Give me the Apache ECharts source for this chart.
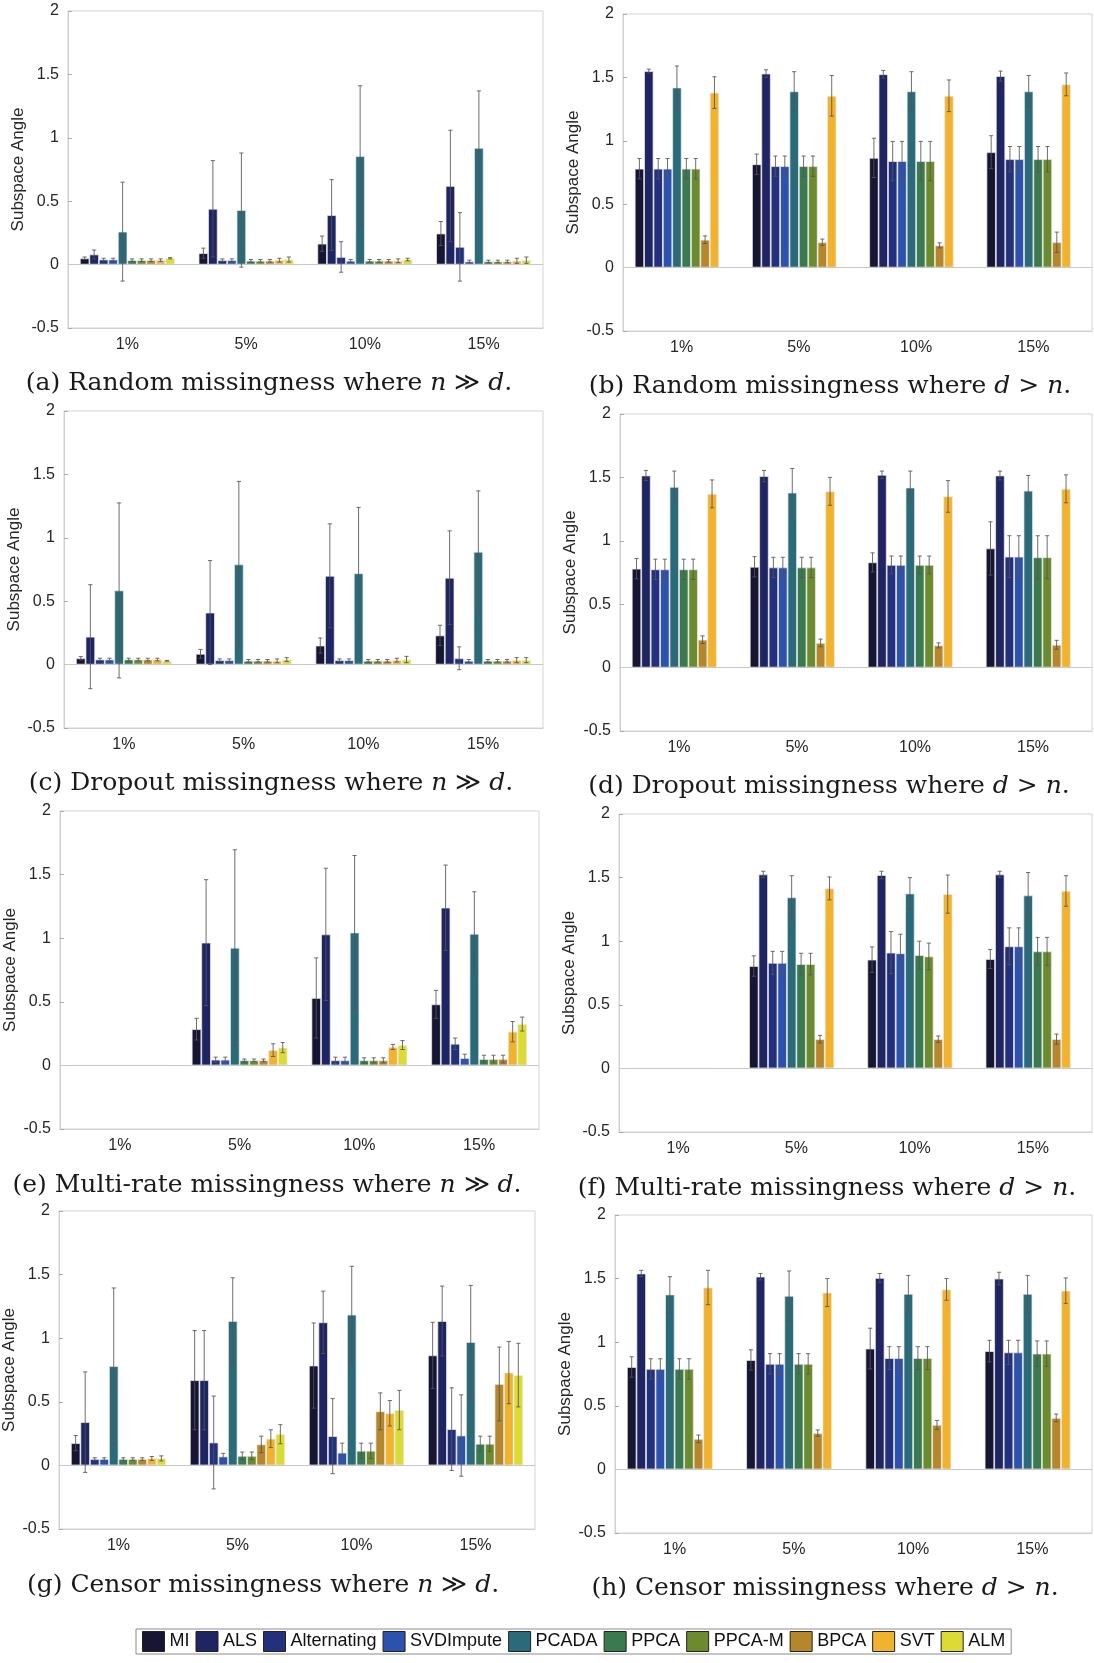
<!DOCTYPE html>
<html>
<head>
<meta charset="utf-8">
<script src="https://cdn.jsdelivr.net/npm/echarts@6/dist/echarts.min.js"></script>
<style>
  html, body { margin: 0; padding: 0; background: #ffffff; }
  #chart { width: 1094px; height: 1663px; }
</style>
</head>
<body>
<div id="chart"></div>
<script>
// Missingness rates on the x axis and the ten imputation methods
const categories = ['1%', '5%', '10%', '15%'];
const methods = ['MI', 'ALS', 'Alternating', 'SVDImpute', 'PCADA', 'PPCA', 'PPCA-M', 'BPCA', 'SVT', 'ALM'];
const methodColors = ['#161634', '#1f2462', '#23307e', '#2c52ad', '#2b6a79', '#3b7a4e', '#6c8b2e', '#b5872a', '#f1b22d', '#dcdb33'];
const yTicks = [-0.5, 0, 0.5, 1, 1.5, 2];

// Mean subspace angle (rows: methods, columns: missingness rates) and error-bar half widths.
// null = method not run for that setting.

// (a) Random missingness, n >> d
const random_nd_mean = [
  [0.05, 0.09, 0.165, 0.245],
  [0.08, 0.44, 0.39, 0.62],
  [0.04, 0.035, 0.06, 0.14],
  [0.04, 0.035, 0.03, 0.025],
  [0.26, 0.43, 0.855, 0.92],
  [0.035, 0.03, 0.03, 0.025],
  [0.035, 0.03, 0.03, 0.025],
  [0.035, 0.03, 0.03, 0.025],
  [0.035, 0.035, 0.03, 0.03],
  [0.05, 0.04, 0.04, 0.035]
];
const random_nd_err = [
  [0.01, 0.04, 0.06, 0.095],
  [0.035, 0.38, 0.28, 0.44],
  [0.01, 0.01, 0.12, 0.27],
  [0.01, 0.01, 0.01, 0.01],
  [0.39, 0.45, 0.555, 0.45],
  [0.01, 0.01, 0.01, 0.01],
  [0.01, 0.01, 0.01, 0.01],
  [0.01, 0.01, 0.01, 0.01],
  [0.01, 0.015, 0.015, 0.02],
  [0.005, 0.02, 0.01, 0.025]
];

// (b) Random missingness, d > n
const random_dn_mean = [
  [0.78, 0.815, 0.865, 0.91],
  [1.55, 1.53, 1.525, 1.51],
  [0.78, 0.80, 0.84, 0.855],
  [0.78, 0.80, 0.84, 0.855],
  [1.42, 1.39, 1.39, 1.39],
  [0.78, 0.80, 0.84, 0.855],
  [0.78, 0.80, 0.84, 0.855],
  [0.22, 0.20, 0.175, 0.20],
  [1.38, 1.355, 1.355, 1.445],
  [null, null, null, null]
];
const random_dn_err = [
  [0.08, 0.08, 0.155, 0.13],
  [0.015, 0.03, 0.03, 0.04],
  [0.08, 0.08, 0.155, 0.10],
  [0.08, 0.08, 0.155, 0.10],
  [0.17, 0.155, 0.155, 0.125],
  [0.08, 0.08, 0.155, 0.10],
  [0.08, 0.08, 0.155, 0.10],
  [0.03, 0.025, 0.02, 0.08],
  [0.125, 0.16, 0.125, 0.09],
  [null, null, null, null]
];

// (c) Dropout missingness, n >> d
const dropout_nd_mean = [
  [0.05, 0.085, 0.15, 0.23],
  [0.22, 0.41, 0.70, 0.685],
  [0.04, 0.035, 0.035, 0.05],
  [0.04, 0.035, 0.035, 0.03],
  [0.585, 0.79, 0.72, 0.89],
  [0.04, 0.03, 0.03, 0.03],
  [0.04, 0.03, 0.03, 0.03],
  [0.04, 0.03, 0.03, 0.03],
  [0.04, 0.03, 0.035, 0.035],
  [0.03, 0.04, 0.04, 0.035]
];
const dropout_nd_err = [
  [0.013, 0.035, 0.06, 0.08],
  [0.41, 0.41, 0.41, 0.37],
  [0.01, 0.01, 0.01, 0.09],
  [0.01, 0.01, 0.01, 0.01],
  [0.69, 0.655, 0.52, 0.48],
  [0.01, 0.01, 0.01, 0.01],
  [0.01, 0.01, 0.01, 0.01],
  [0.01, 0.01, 0.01, 0.01],
  [0.01, 0.015, 0.015, 0.02],
  [0.003, 0.015, 0.025, 0.02]
];

// (d) Dropout missingness, d > n
const dropout_dn_mean = [
  [0.78, 0.795, 0.83, 0.94],
  [1.515, 1.51, 1.52, 1.515],
  [0.775, 0.79, 0.81, 0.875],
  [0.775, 0.79, 0.81, 0.875],
  [1.425, 1.38, 1.42, 1.395],
  [0.775, 0.79, 0.81, 0.87],
  [0.775, 0.79, 0.81, 0.87],
  [0.22, 0.195, 0.175, 0.18],
  [1.37, 1.39, 1.35, 1.41],
  [null, null, null, null]
];
const dropout_dn_err = [
  [0.08, 0.08, 0.075, 0.21],
  [0.04, 0.045, 0.03, 0.035],
  [0.08, 0.08, 0.07, 0.165],
  [0.08, 0.08, 0.07, 0.165],
  [0.125, 0.19, 0.13, 0.12],
  [0.08, 0.08, 0.07, 0.17],
  [0.08, 0.08, 0.07, 0.17],
  [0.03, 0.03, 0.02, 0.035],
  [0.11, 0.11, 0.125, 0.11],
  [null, null, null, null]
];

// (e) Multi-rate missingness, n >> d
const multirate_nd_mean = [
  [0, 0.285, 0.53, 0.48],
  [0, 0.965, 1.03, 1.24],
  [0, 0.045, 0.04, 0.17],
  [0, 0.045, 0.04, 0.058],
  [0, 0.925, 1.045, 1.035],
  [0, 0.04, 0.04, 0.05],
  [0, 0.04, 0.04, 0.05],
  [0, 0.04, 0.04, 0.05],
  [0, 0.12, 0.145, 0.265],
  [0, 0.14, 0.16, 0.325]
];
const multirate_nd_err = [
  [0, 0.085, 0.315, 0.11],
  [0, 0.495, 0.52, 0.335],
  [0, 0.02, 0.025, 0.045],
  [0, 0.02, 0.025, 0.03],
  [0, 0.77, 0.605, 0.33],
  [0, 0.01, 0.02, 0.03],
  [0, 0.01, 0.02, 0.03],
  [0, 0.01, 0.02, 0.03],
  [0, 0.05, 0.02, 0.08],
  [0, 0.04, 0.035, 0.055]
];

// (f) Multi-rate missingness, d > n
const multirate_dn_mean = [
  [0, 0.805, 0.855, 0.86],
  [0, 1.525, 1.52, 1.525],
  [0, 0.83, 0.91, 0.96],
  [0, 0.83, 0.905, 0.96],
  [0, 1.345, 1.375, 1.36],
  [0, 0.82, 0.89, 0.92],
  [0, 0.82, 0.88, 0.92],
  [0, 0.23, 0.23, 0.23],
  [0, 1.415, 1.37, 1.395],
  [null, null, null, null]
];
const multirate_dn_err = [
  [0, 0.08, 0.10, 0.075],
  [0, 0.025, 0.03, 0.025],
  [0, 0.09, 0.165, 0.145],
  [0, 0.09, 0.15, 0.145],
  [0, 0.17, 0.125, 0.18],
  [0, 0.085, 0.11, 0.11],
  [0, 0.085, 0.105, 0.11],
  [0, 0.03, 0.025, 0.04],
  [0, 0.09, 0.15, 0.12],
  [null, null, null, null]
];

// (g) Censor missingness, n >> d
const censor_nd_mean = [
  [0.175, 0.67, 0.785, 0.865],
  [0.34, 0.67, 1.125, 1.135],
  [0.05, 0.18, 0.23, 0.285],
  [0.05, 0.07, 0.10, 0.235],
  [0.78, 1.135, 1.185, 0.97],
  [0.05, 0.075, 0.115, 0.17],
  [0.05, 0.075, 0.115, 0.17],
  [0.05, 0.165, 0.425, 0.64],
  [0.055, 0.21, 0.41, 0.73],
  [0.055, 0.245, 0.435, 0.71]
];
const censor_nd_err = [
  [0.06, 0.39, 0.335, 0.26],
  [0.395, 0.39, 0.245, 0.275],
  [0.01, 0.365, 0.295, 0.325],
  [0.01, 0.025, 0.075, 0.32],
  [0.615, 0.34, 0.38, 0.445],
  [0.01, 0.03, 0.06, 0.06],
  [0.01, 0.03, 0.06, 0.06],
  [0.01, 0.065, 0.145, 0.29],
  [0.015, 0.07, 0.10, 0.245],
  [0.02, 0.075, 0.155, 0.25]
];

// (h) Censor missingness, d > n
const censor_dn_mean = [
  [0.805, 0.86, 0.95, 0.93],
  [1.54, 1.515, 1.505, 1.50],
  [0.79, 0.83, 0.875, 0.92],
  [0.79, 0.83, 0.875, 0.92],
  [1.375, 1.365, 1.38, 1.38],
  [0.79, 0.83, 0.875, 0.91],
  [0.79, 0.83, 0.875, 0.91],
  [0.24, 0.285, 0.35, 0.405],
  [1.43, 1.39, 1.415, 1.405],
  [null, null, null, null]
];
const censor_dn_err = [
  [0.08, 0.08, 0.16, 0.085],
  [0.025, 0.025, 0.035, 0.05],
  [0.08, 0.08, 0.09, 0.095],
  [0.08, 0.08, 0.09, 0.095],
  [0.14, 0.195, 0.145, 0.145],
  [0.08, 0.08, 0.09, 0.10],
  [0.08, 0.08, 0.09, 0.10],
  [0.03, 0.025, 0.035, 0.03],
  [0.135, 0.11, 0.085, 0.10],
  [null, null, null, null]
];

// Sub-figure captions ({i|...} = italic math symbol)
const captions = [
  '(a) Random missingness where {i|n} ≫ {i|d}.',
  '(b) Random missingness where {i|d} > {i|n}.',
  '(c) Dropout missingness where {i|n} ≫ {i|d}.',
  '(d) Dropout missingness where {i|d} > {i|n}.',
  '(e) Multi-rate missingness where {i|n} ≫ {i|d}.',
  '(f) Multi-rate missingness where {i|d} > {i|n}.',
  '(g) Censor missingness where {i|n} ≫ {i|d}.',
  '(h) Censor missingness where {i|d} > {i|n}.'
];

const panelMeans = [random_nd_mean, random_dn_mean, dropout_nd_mean, dropout_dn_mean,
                    multirate_nd_mean, multirate_dn_mean, censor_nd_mean, censor_dn_mean];
const panelErrs = [random_nd_err, random_dn_err, dropout_nd_err, dropout_dn_err,
                   multirate_nd_err, multirate_dn_err, censor_nd_err, censor_dn_err];

// Page layout of the eight panels (pixels)
const layout = [
  { left: 68,  top: 11,   width: 475, height: 317, capX: 269, capY: 383 },
  { left: 623, top: 14,   width: 469, height: 317, capX: 830, capY: 386 },
  { left: 64,  top: 411,  width: 479, height: 317, capX: 271, capY: 783 },
  { left: 620, top: 414,  width: 472, height: 317, capX: 829, capY: 786 },
  { left: 60,  top: 811,  width: 479, height: 318, capX: 267, capY: 1185 },
  { left: 619, top: 814,  width: 473, height: 318, capX: 827, capY: 1188 },
  { left: 55,  top: 1211, width: 480, height: 318, capX: 263, capY: 1585 },
  { left: 615, top: 1215, width: 477, height: 318, capX: 825, capY: 1588 }
];

const CAT_GAP = 0.2;   // fraction of each category band left empty
const sansFont = '"Liberation Sans", Arial, sans-serif';
const serifFont = '"DejaVu Serif", "Liberation Serif", serif';

// Draws a symmetric error bar at the position of bar `idx` within its category group
function renderErrorBar(params, api) {
  const cat = api.value(0);
  const idx = api.value(1);
  const m = api.value(2);
  const e = api.value(3);
  const band = api.size([1, 0])[0];
  const bw = band * (1 - CAT_GAP) / methods.length;
  const cx = api.coord([cat, m])[0] + (idx - (methods.length - 1) / 2) * bw;
  const yTop = api.coord([cat, m + e])[1];
  const yBot = api.coord([cat, m - e])[1];
  const cap = Math.max(1.5, bw * 0.22);
  const style = { stroke: '#555555', lineWidth: 1, opacity: 0.85 };
  return {
    type: 'group',
    children: [
      { type: 'line', shape: { x1: cx, y1: yTop, x2: cx, y2: yBot }, style: style },
      { type: 'line', shape: { x1: cx - cap, y1: yTop, x2: cx + cap, y2: yTop }, style: style },
      { type: 'line', shape: { x1: cx - cap, y1: yBot, x2: cx + cap, y2: yBot }, style: style }
    ]
  };
}

const grids = [], xAxes = [], yAxes = [], series = [], graphics = [];

layout.forEach(function (L, p) {
  grids.push({
    left: L.left, top: L.top, width: L.width, height: L.height,
    show: true, borderColor: '#d4d4d4', borderWidth: 1, backgroundColor: '#ffffff'
  });
  xAxes.push({
    type: 'category', gridIndex: p, data: categories,
    axisLine: { onZero: false, lineStyle: { color: '#cfcfcf' } },
    axisTick: { inside: true, alignWithLabel: true, length: 4, lineStyle: { color: '#aaaaaa' } },
    axisLabel: { color: '#262626', fontSize: 16, fontFamily: sansFont, margin: 9 }
  });
  yAxes.push({
    type: 'value', gridIndex: p,
    min: yTicks[0], max: yTicks[yTicks.length - 1], interval: 0.5,
    name: 'Subspace Angle', nameLocation: 'middle', nameGap: 41,
    nameTextStyle: { color: '#262626', fontSize: 17, fontFamily: sansFont },
    axisLine: { show: true, lineStyle: { color: '#cfcfcf' } },
    axisTick: { show: true, inside: true, length: 4, lineStyle: { color: '#aaaaaa' } },
    splitLine: { show: false },
    axisLabel: { color: '#262626', fontSize: 16, fontFamily: sansFont, margin: 9 }
  });

  const means = panelMeans[p];
  const errs = panelErrs[p];
  methods.forEach(function (name, i) {
    const s = {
      type: 'bar', name: name, xAxisIndex: p, yAxisIndex: p,
      data: means[i].map(function (v) { return v === null ? '-' : v; }),
      barGap: '0%', barCategoryGap: (CAT_GAP * 100) + '%',
      itemStyle: { color: methodColors[i], borderColor: 'rgba(235,235,235,0.9)', borderWidth: 0.8 },
      emphasis: { disabled: true },
      silent: true, animation: false, z: 2
    };
    if (i === 0) {
      s.markLine = {
        silent: true, symbol: 'none', animation: false,
        label: { show: false },
        lineStyle: { color: '#c8c8c8', width: 1, type: 'solid' },
        data: [{ yAxis: 0 }]
      };
    }
    series.push(s);
  });

  const errData = [];
  methods.forEach(function (name, i) {
    categories.forEach(function (c, k) {
      const m = means[i][k], e = errs[i][k];
      if (m !== null && e !== null && e > 0) errData.push([k, i, m, e]);
    });
  });
  series.push({
    type: 'custom', name: 'error', xAxisIndex: p, yAxisIndex: p,
    renderItem: renderErrorBar, data: errData,
    encode: { x: 0, y: 2 }, silent: true, animation: false, z: 5
  });

  graphics.push({
    type: 'text', x: L.capX, y: L.capY,
    style: {
      text: captions[p],
      align: 'center', verticalAlign: 'middle',
      fontFamily: serifFont, fontSize: 25, fill: '#1a1a1a',
      rich: { i: { fontFamily: serifFont, fontSize: 25, fontStyle: 'italic', fill: '#1a1a1a' } }
    }
  });
});

const chart = echarts.init(document.getElementById('chart'), null, { renderer: 'canvas' });
chart.setOption({
  backgroundColor: '#ffffff',
  animation: false,
  color: methodColors,
  grid: grids,
  xAxis: xAxes,
  yAxis: yAxes,
  series: series,
  graphic: graphics,
  legend: {
    data: methods,
    left: 136, top: 1629,
    orient: 'horizontal',
    icon: 'rect', itemWidth: 22, itemHeight: 20, itemGap: 6,
    padding: [2, 6],
    backgroundColor: '#ffffff', borderColor: '#8c8c8c', borderWidth: 1,
    itemStyle: { borderColor: '#222222', borderWidth: 1 },
    textStyle: { color: '#111111', fontSize: 18, fontFamily: sansFont },
    selectedMode: false
  }
});
</script>
</body>
</html>
